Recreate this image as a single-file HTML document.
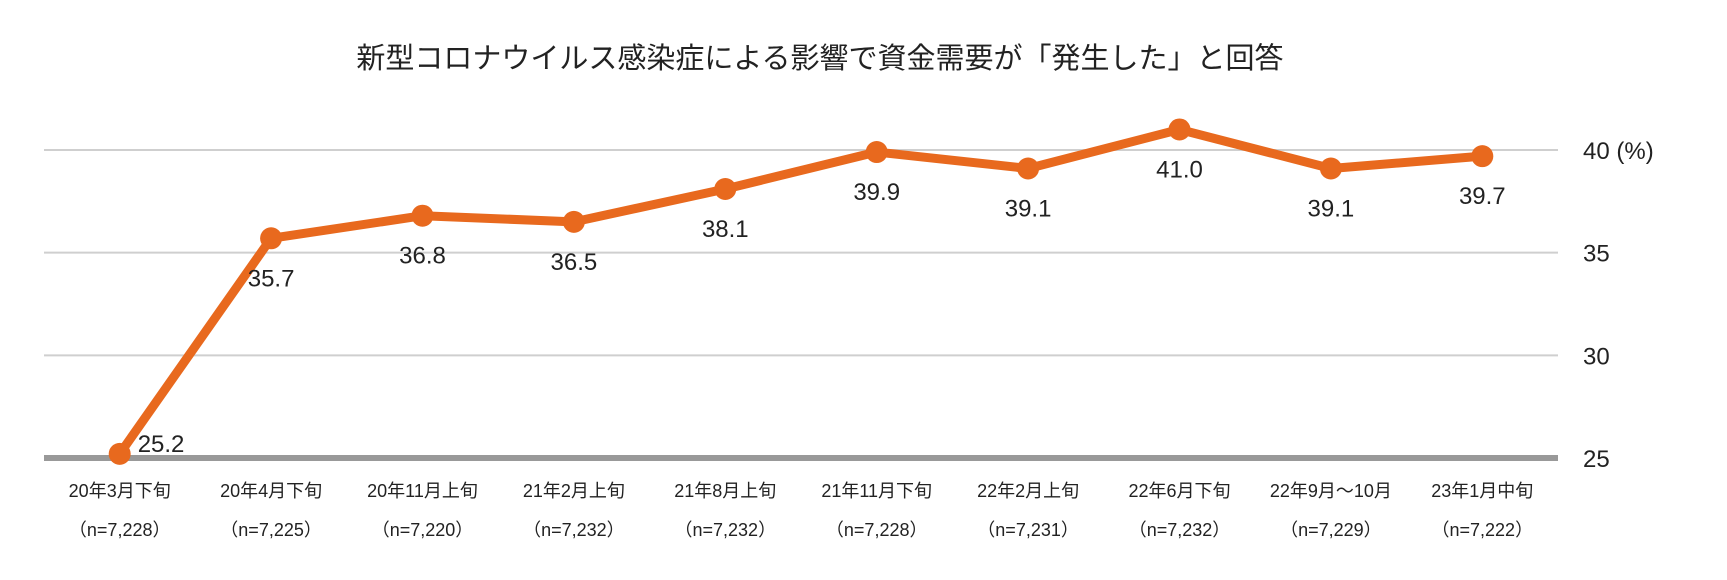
<!DOCTYPE html>
<html><head><meta charset="utf-8">
<style>
html,body{margin:0;padding:0;background:#fff;}
svg{display:block;font-family:"Liberation Sans","Noto Sans CJK JP",sans-serif;}
</style></head>
<body>
<svg id="chart" width="1727" height="580" viewBox="0 0 1727 580">
<text x="820" y="68" font-size="29" text-anchor="middle" fill="#222">新型コロナウイルス感染症による影響で資金需要が「発生した」と回答</text>
<g id="grid"></g><g id="xlabels"></g><g id="series"></g><g id="vlabels"></g>
</svg>
<script>
const categories=["20年3月下旬","20年4月下旬","20年11月上旬","21年2月上旬","21年8月上旬","21年11月下旬","22年2月上旬","22年6月下旬","22年9月～10月","23年1月中旬"];
const samples=["（n=7,228）","（n=7,225）","（n=7,220）","（n=7,232）","（n=7,232）","（n=7,228）","（n=7,231）","（n=7,232）","（n=7,229）","（n=7,222）"];
const values=[25.2,35.7,36.8,36.5,38.1,39.9,39.1,41.0,39.1,39.7];
const yTicks=[25,30,35,40];
const NS="http://www.w3.org/2000/svg";
const x0=44,x1=1558,yMin=25,yMax=40,py0=458,py1=150;
const band=(x1-x0)/categories.length;
const X=i=>x0+band*(i+0.5);
const Y=v=>py0-(v-yMin)/(yMax-yMin)*(py0-py1);
function mk(t,a,p){const e=document.createElementNS(NS,t);for(const k in a)e.setAttribute(k,a[k]);p.appendChild(e);return e;}
const grid=document.getElementById('grid');
yTicks.forEach(t=>{
  const l=mk('line',{x1:x0,x2:x1,y1:Y(t),y2:Y(t),stroke:t===25?'#999':'#cfcfcf','stroke-width':t===25?6:2},grid);
  
  
  const tx=mk('text',{x:1583,y:Y(t)+9,'font-size':24,fill:'#222'},grid);
  tx.textContent=t===40?'40 (%)':String(t);
  
  
});
const xl=document.getElementById('xlabels');
categories.forEach((c,i)=>{
  const a=mk('text',{x:X(i),y:497,'font-size':18,'text-anchor':'middle',fill:'#222'},xl);
  a.textContent=c;
  
  
  const b=mk('text',{x:X(i),y:536,'font-size':18,'text-anchor':'middle',fill:'#222'},xl);
  b.textContent=samples[i];
  
  
});
const s=document.getElementById('series');
const pl=mk('polyline',{points:values.map((v,i)=>X(i)+','+Y(v)).join(' '),fill:'none',stroke:'#E8691E','stroke-width':9,'stroke-linejoin':'round'},s);


const vl=document.getElementById('vlabels');
values.forEach((v,i)=>{
  const c=mk('circle',{cx:X(i),cy:Y(v),r:11,fill:'#E8691E'},s);
  
  
  const t=mk('text',{'font-size':24,fill:'#222'},vl);
  if(i===0){t.setAttribute('x',X(i)+18);t.setAttribute('y',Y(v)-2);}
  else{t.setAttribute('x',X(i));t.setAttribute('y',Y(v)+48);t.setAttribute('text-anchor','middle');}
  t.textContent=v.toFixed(1);
  
  
});
</script>
</body></html>
